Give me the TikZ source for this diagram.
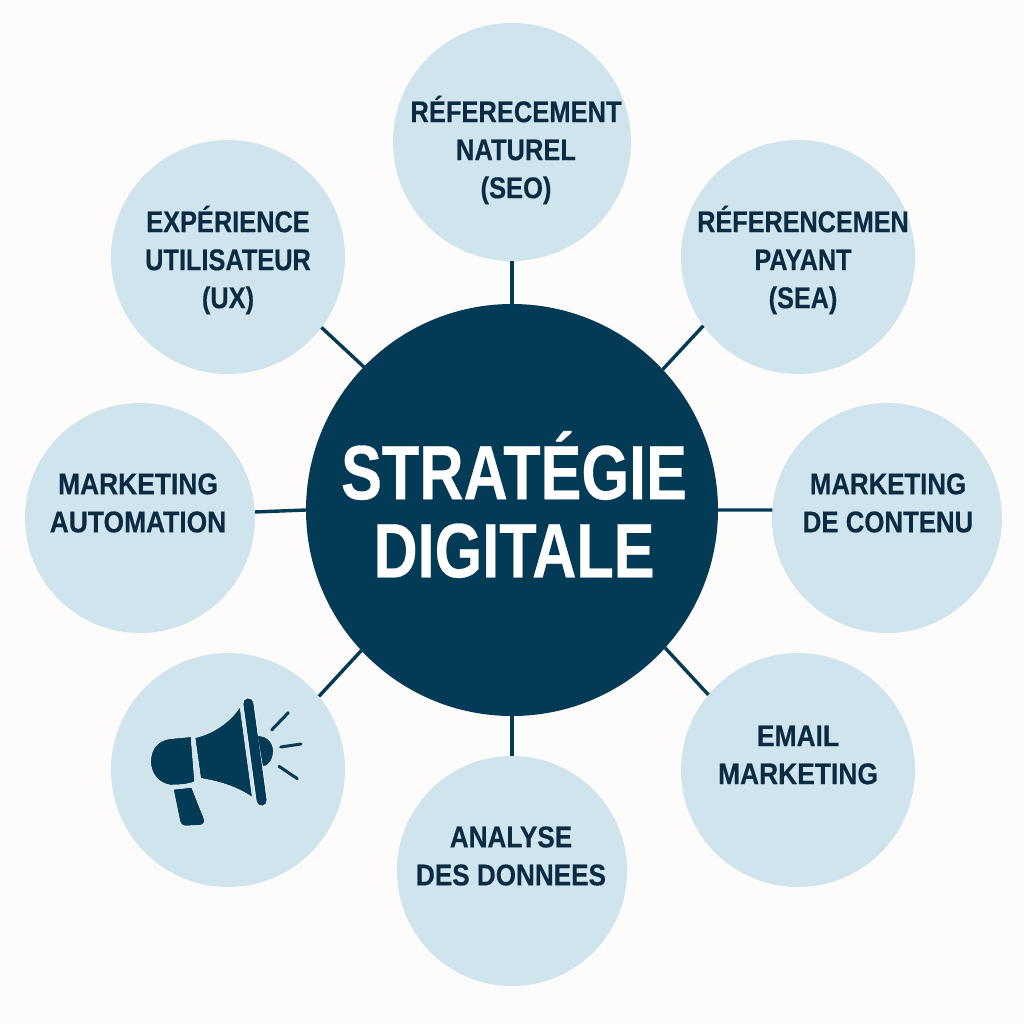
\documentclass[tikz,border=0pt]{standalone}
\usepackage{fontspec}
\setmainfont{Liberation Sans}
\definecolor{bg}{HTML}{FDFCFA}
\definecolor{deep}{HTML}{033A56}
\definecolor{pale}{HTML}{CFE4ED}
\definecolor{ink}{HTML}{0B2B45}
\tikzset{
  hub/.style={circle,fill=deep,inner sep=0pt,outer sep=0pt,minimum size=412pt},
  sat/.style={circle,fill=pale,inner sep=0pt,outer sep=0pt,minimum size=#1},
  lab/.style={align=center,text=ink,inner sep=0pt,font=\fontsize{30}{38}\selectfont\bfseries\addfontfeature{FakeStretch=#1,FakeBold=0.35}},
  title/.style={align=center,text=white,inner sep=0pt,font=\fontsize{77}{78}\selectfont\bfseries\addfontfeature{FakeStretch=0.795,FakeBold=0.4}},
  link/.style={draw=deep,line width=3.4pt},
  mega/.style={fill=deep,draw=white,line width=0.5pt,line join=round},
  megaline/.style={draw=deep,line cap=round},
}
\begin{document}
\begin{tikzpicture}[x=1pt,y=-1pt]
\useasboundingbox (0,0) rectangle (1024,1024);
\fill[bg] (0,0) rectangle (1024,1024);
\node[hub] (hub) at (512,510) {};
\node[sat=238pt] (seo) at (512,142) {};
\node[sat=234pt] (sea) at (798,257) {};
\node[sat=230pt] (content) at (887,518) {};
\node[sat=234pt] (email) at (798,770) {};
\node[sat=230pt] (data) at (512,871) {};
\node[sat=234pt] (horn) at (228,770) {};
\node[sat=230pt] (auto) at (140,518) {};
\node[sat=234pt] (ux) at (228,257) {};
\draw[link] (hub.90) -- (seo.270);
\draw[link] (hub.43.6) -- (sea.216.4);
\draw[link] (hub.-0.28) -- (content.176.5);
\draw[link] (hub.-42.8) -- (email.140.8);
\draw[link] (hub.270) -- (data.90);
\draw[link] (hub.223) -- (horn.39.8);
\draw[link] (hub.180.28) -- (auto.3.5);
\draw[link] (hub.136) -- (ux.-37);
\node[title] (titleT) at (514,504.5) {STRATÉGIE\\DIGITALE};
\node[lab=0.85] (seoT) at (516,150) {RÉFERECEMENT\\NATUREL\\(SEO)};
\node[lab=0.84] (seaT) at (803,260) {RÉFERENCEMEN\\PAYANT\\(SEA)};
\node[lab=0.845] (uxT) at (228,260) {EXPÉRIENCE\\UTILISATEUR\\(UX)};
\node[lab=0.88] (autoT) at (138,503) {MARKETING\\AUTOMATION};
\node[lab=0.86] (contentT) at (888,503) {MARKETING\\DE CONTENU};
\node[lab=0.88] (emailT) at (798,755) {EMAIL\\MARKETING};
\node[lab=0.87] (dataT) at (511,856) {ANALYSE\\DES DONNEES};
\begin{scope}[shift={(120,670)},x=0.33333pt,y=-0.33333pt]
  \draw[megaline,draw=white,line width=11.5pt] (385,100) -- (425,392);
  \path[mega] (412,197) .. controls (445,197) and (460,220) .. (460,243) .. controls (460,270) and (445,290) .. (428,290) -- cycle;
  \draw[megaline,line width=10pt] (385,100) -- (425,392);
  \path[mega] (213,200) -- (224,335) .. controls (200,345) and (170,345) .. (150,345) .. controls (115,340) and (92,310) .. (92,275) .. controls (92,235) and (115,210) .. (150,206) -- cycle;
  \path[mega] (225,203) .. controls (285,190) and (335,150) .. (360,110) -- (397,382) .. controls (350,350) and (300,335) .. (242,325) -- cycle;
  \path[mega] (160,358) -- (215,352) -- (252,445) .. controls (256,458) and (250,465) .. (238,466) -- (195,468) .. controls (186,468) and (182,462) .. (180,455) -- cycle;
  \draw[megaline,line width=3pt] (455,180) -- (505,128);
  \draw[megaline,line width=3pt] (482,231) -- (543,222);
  \draw[megaline,line width=3pt] (477,289) -- (532,326);
\end{scope}
\end{tikzpicture}
\end{document}
